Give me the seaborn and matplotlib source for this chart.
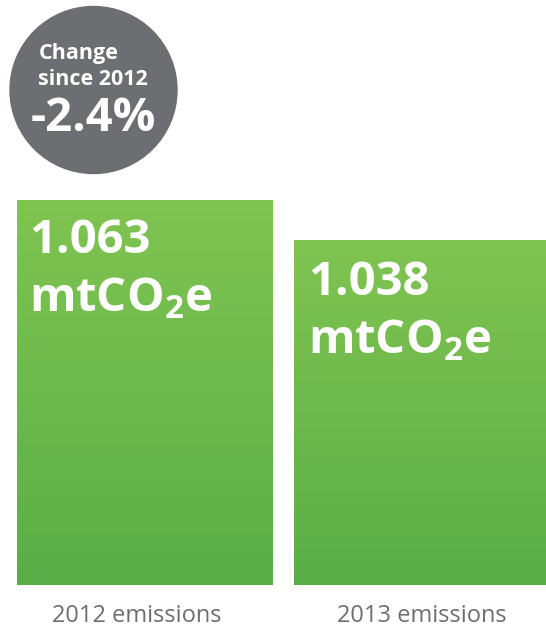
import numpy as np
import pandas as pd
import seaborn as sns
import matplotlib.pyplot as plt
from matplotlib.patches import Ellipse
from matplotlib.colors import LinearSegmentedColormap

# --- data ---
years = ["2012 emissions", "2013 emissions"]
emissions = [1.063, 1.038]
value_labels = ["1.063", "1.038"]
change_text = "-2.4%"

W, H = 546, 630
GREEN_TOP = "#80c451"
GREEN_BOTTOM = "#5aae47"
GREY = "#6d6e71"

sns.set_theme(style="white")
plt.rcParams["font.family"] = ["Open Sans", "DejaVu Sans"]
plt.rcParams["mathtext.fontset"] = "custom"
plt.rcParams["mathtext.rm"] = "Open Sans:bold"
plt.rcParams["mathtext.default"] = "rm"


def px(x, y):
    # pixel coords (origin top-left) -> figure fraction
    return x / W, 1 - y / H


fig = plt.figure(figsize=(W / 100, H / 100), dpi=100)
ax = fig.add_axes([0, 45 / H, 1, 1 - 45 / H])

df = pd.DataFrame({"year": years, "value": emissions})
sns.barplot(data=df, x="year", y="value", width=256 / 277, color=GREEN_TOP, ax=ax)

# axis limits so bars start at the baseline like the infographic
scale = 1600.0
xlim = (-145 / 277, (W - 145) / 277)
ylim = (1.063 - 385 / scale, 1.063 + 200 / scale)
ax.axis("off")

# vertical gradient inside each bar
cmap = LinearSegmentedColormap.from_list("g", [GREEN_BOTTOM, GREEN_TOP])
grad = np.linspace(0, 1, 256).reshape(-1, 1)
for bar in ax.patches:
    x0 = bar.get_x()
    x1 = x0 + bar.get_width()
    top = bar.get_y() + bar.get_height()
    im = ax.imshow(grad, cmap=cmap, origin="lower", aspect="auto",
                   extent=[x0, x1, ylim[0], top], zorder=2)
    im.set_clip_path(bar)
ax.set_xlim(*xlim)
ax.set_ylim(*ylim)

# value text on bars
for lbl, (x, y) in zip(value_labels, [(29, 253), (308, 295)]):
    fig.text(*px(x, y), lbl, color="white", fontsize=34,
             fontweight="bold", va="baseline", ha="left")
    fig.text(*px(x, y + 58), "mtCO$_2$e", color="white", fontsize=34,
             fontweight="bold", va="baseline", ha="left")

# category labels
for name, xc in zip(years, [137, 422]):
    fig.text(*px(xc, 622), name, color=GREY, fontsize=17,
             va="baseline", ha="center")

# change badge
cx, cy = px(93.5, 90)
fig.add_artist(Ellipse((cx, cy), 2 * 83.5 / W, 2 * 83.5 / H, color=GREY,
                       transform=fig.transFigure, zorder=5))
fig.text(*px(39, 59), "Change", color="white", fontsize=15.5,
         fontweight="bold", va="baseline", ha="left", zorder=6)
fig.text(*px(38, 85), "since 2012", color="white", fontsize=15.5,
         fontweight="bold", va="baseline", ha="left", zorder=6)
fig.text(*px(31, 131), change_text, color="white", fontsize=34,
         fontweight="bold", va="baseline", ha="left", zorder=6)

fig.savefig("out.png", dpi=100, facecolor="white")
